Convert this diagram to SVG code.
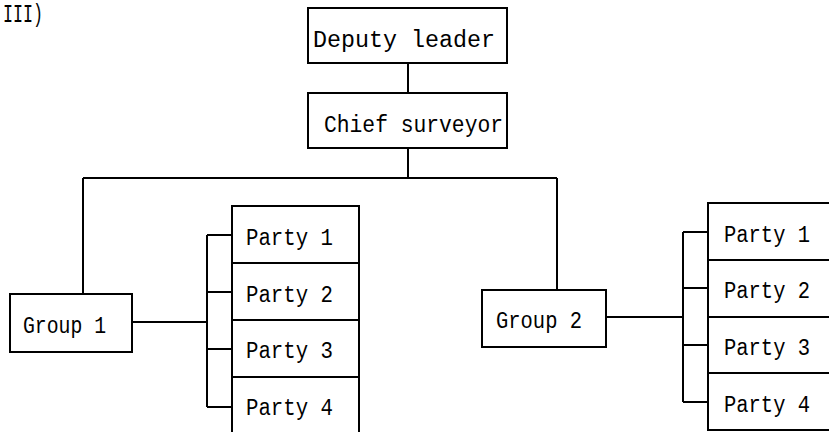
<svg xmlns="http://www.w3.org/2000/svg" width="829" height="432" viewBox="0 0 829 432">
<style>
.box{fill:#fff;stroke:#000;stroke-width:2}
.ln{fill:none;stroke:#000;stroke-width:2}
text{font-family:"Liberation Mono","DejaVu Sans Mono",monospace;font-size:23px;fill:#000}
</style>
<rect width="829" height="432" fill="#fff"/>
<text x="3" y="22" style="font-size:26px" textLength="40" lengthAdjust="spacingAndGlyphs">III)</text>
<g id="connectors">
<path class="ln" d="M408 63V93M408 148V178M83 178H557M83 178V294M557 178V290"/>
<path class="ln" d="M132 322H207M207 235V407M207 235H232M207 292H232M207 349H232M207 407H232"/>
<path class="ln" d="M606 317H683M683 232V402M683 232H708M683 288H708M683 345H708M683 402H708"/>
</g>
<g id="deputy"><rect class="box" x="308" y="8" width="199" height="55"/><text x="313" y="47" textLength="182" lengthAdjust="spacingAndGlyphs">Deputy leader</text></g>
<g id="chief"><rect class="box" x="308" y="93" width="199" height="55"/><text x="324" y="132" textLength="179" lengthAdjust="spacingAndGlyphs">Chief surveyor</text></g>
<g id="group1"><rect class="box" x="10" y="294" width="122" height="58"/><text x="23" y="333" textLength="83" lengthAdjust="spacingAndGlyphs">Group 1</text></g>
<g id="g1p1"><rect class="box" x="232" y="206" width="127" height="57"/><text x="246" y="245" textLength="87" lengthAdjust="spacingAndGlyphs">Party 1</text></g>
<g id="g1p2"><rect class="box" x="232" y="263" width="127" height="57"/><text x="246" y="302" textLength="87" lengthAdjust="spacingAndGlyphs">Party 2</text></g>
<g id="g1p3"><rect class="box" x="232" y="320" width="127" height="57"/><text x="246" y="358" textLength="87" lengthAdjust="spacingAndGlyphs">Party 3</text></g>
<g id="g1p4"><rect class="box" x="232" y="377" width="127" height="60"/><text x="246" y="415" textLength="87" lengthAdjust="spacingAndGlyphs">Party 4</text></g>
<g id="group2"><rect class="box" x="482" y="290" width="124" height="57"/><text x="496" y="328" textLength="86" lengthAdjust="spacingAndGlyphs">Group 2</text></g>
<g id="g2p1"><rect class="box" x="708" y="203" width="130" height="57"/><text x="724" y="242" textLength="86" lengthAdjust="spacingAndGlyphs">Party 1</text></g>
<g id="g2p2"><rect class="box" x="708" y="260" width="130" height="57"/><text x="724" y="298" textLength="86" lengthAdjust="spacingAndGlyphs">Party 2</text></g>
<g id="g2p3"><rect class="box" x="708" y="317" width="130" height="56"/><text x="724" y="355" textLength="86" lengthAdjust="spacingAndGlyphs">Party 3</text></g>
<g id="g2p4"><rect class="box" x="708" y="373" width="130" height="57"/><text x="724" y="412" textLength="86" lengthAdjust="spacingAndGlyphs">Party 4</text></g>
</svg>
